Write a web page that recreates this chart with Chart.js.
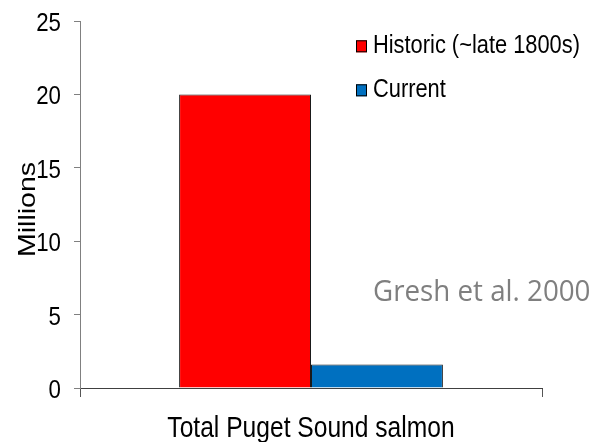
<!DOCTYPE html>
<html>
<head>
<meta charset="utf-8">
<script src="https://cdn.jsdelivr.net/npm/chart.js@4/dist/chart.umd.min.js"></script>
<style>
  html, body { margin: 0; padding: 0; background: #ffffff; }
  #wrap { width: 596px; height: 442px; position: relative; }
</style>
</head>
<body>
<div id="wrap"><canvas id="c" width="596" height="442"></canvas></div>
<script>
// Puget Sound salmon abundance, millions of fish
const categories = ['Total Puget Sound salmon'];
const seriesNames = ['Historic (~late 1800s)', 'Current'];
const historicValues = [20];
const currentValues = [1.6];
const yTicks = [0, 5, 10, 15, 20, 25];
const yTitle = 'Millions';
const sourceNote = 'Gresh et al. 2000';

const SANS = '"Liberation Sans", Arial, sans-serif';
const SQUEEZE = 0.84; // condensed look for the chart text

// Draw text squeezed horizontally around its anchor point
function narrowText(ctx, text, x, y, align, size) {
  ctx.save();
  ctx.translate(x, y);
  ctx.scale(SQUEEZE, 1);
  ctx.font = size + 'px ' + SANS;
  ctx.textAlign = align;
  ctx.textBaseline = 'alphabetic';
  ctx.fillStyle = '#000000';
  ctx.fillText(text, 0, 0);
  ctx.restore();
}

// Axis labels, legend and citation
const chartText = {
  id: 'chartText',
  afterDraw(chart) {
    const ctx = chart.ctx;
    const ys = chart.scales.y;
    const xs = chart.scales.x;

    // y tick labels
    ys.ticks.forEach(t => {
      narrowText(ctx, String(t.value), 61, ys.getPixelForValue(t.value) + 10, 'right', 26.5);
    });

    // category label
    chart.data.labels.forEach((lab, i) => {
      narrowText(ctx, lab, xs.getPixelForValue(i), 437, 'center', 29.3);
    });

    // rotated y title
    ctx.save();
    ctx.translate(35, (ys.top + ys.bottom) / 2 + 5);
    ctx.scale(SQUEEZE, 1);
    ctx.rotate(-Math.PI / 2);
    ctx.font = '28.5px ' + SANS;
    ctx.textAlign = 'center';
    ctx.textBaseline = 'alphabetic';
    ctx.fillStyle = '#000000';
    ctx.fillText(yTitle, 0, 0);
    ctx.restore();

    // legend, one row per series
    chart.data.datasets.forEach((ds, i) => {
      const base = 53.3 + i * 44;
      ctx.save();
      ctx.fillStyle = ds.backgroundColor;
      ctx.fillRect(356, base - 13, 11, 12);
      ctx.strokeStyle = '#000000';
      ctx.lineWidth = 1;
      ctx.strokeRect(356.5, base - 12.5, 10, 11);
      ctx.restore();
      narrowText(ctx, ds.label, 373, base, 'left', 26);
    });

    // citation
    ctx.save();
    ctx.translate(373, 301);
    ctx.scale(0.94, 1);
    ctx.font = '29.5px "Open Sans", "Noto Sans", sans-serif';
    ctx.fillStyle = '#7f7f7f';
    ctx.textAlign = 'left';
    ctx.textBaseline = 'alphabetic';
    ctx.fillText(sourceNote, 0, 0);
    ctx.restore();
  }
};

new Chart(document.getElementById('c'), {
  type: 'bar',
  data: {
    labels: categories,
    datasets: [
      { label: seriesNames[0], data: historicValues, backgroundColor: '#ff0000', borderColor: '#1a1a1a', borderWidth: 1 },
      { label: seriesNames[1], data: currentValues, backgroundColor: '#0070c0', borderColor: '#1a1a1a', borderWidth: 1 }
    ]
  },
  options: {
    responsive: false,
    animation: false,
    devicePixelRatio: 1,
    layout: { padding: { top: 21, right: 54, left: 0, bottom: 0 } },
    datasets: { bar: { categoryPercentage: 0.571, barPercentage: 1.0 } },
    plugins: {
      legend: { display: false },
      tooltip: { enabled: false }
    },
    scales: {
      x: {
        grid: { display: true, drawOnChartArea: false, drawTicks: true, tickLength: 9, color: '#555555', offset: true },
        border: { display: true, color: '#404040', width: 1 },
        ticks: { display: false },
        afterFit(scale) { scale.height = 54; }
      },
      y: {
        min: 0,
        max: 25,
        afterBuildTicks(scale) { scale.ticks = yTicks.map(v => ({ value: v })); },
        grid: { display: true, drawOnChartArea: false, drawTicks: true, tickLength: 6, color: '#808080' },
        border: { display: true, color: '#808080', width: 1 },
        ticks: { display: false },
        afterFit(scale) { scale.width = 80; }
      }
    }
  },
  plugins: [chartText]
});
</script>
</body>
</html>
